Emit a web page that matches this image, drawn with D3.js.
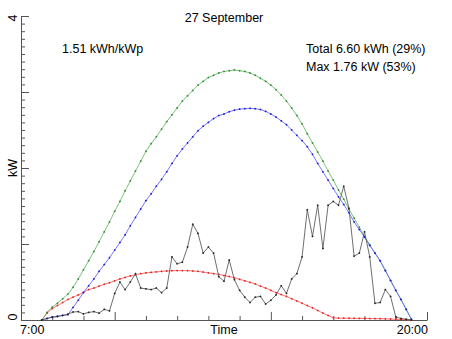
<!DOCTYPE html>
<html><head><meta charset="utf-8">
<script src="https://cdn.jsdelivr.net/npm/d3@7"></script>
<style>body{margin:0;background:#fff} svg{display:block} text{font-family:"Liberation Sans",Arial,sans-serif;fill:#000}</style>
</head><body><svg id="c" width="452" height="339"></svg>
<script>
// 10-minute samples
const times = ["7:40","7:50","8:00","8:10","8:20","8:30","8:40","8:50","9:00","9:10","9:20","9:30","9:40","9:50",
"10:00","10:10","10:20","10:30","10:40","10:50","11:00","11:10","11:20","11:30","11:40","11:50",
"12:00","12:10","12:20","12:30","12:40","12:50","13:00","13:10","13:20","13:30","13:40","13:50",
"14:00","14:10","14:20","14:30","14:40","14:50","15:00","15:10","15:20","15:30","15:40","15:50",
"16:00","16:10","16:20","16:30","16:40","16:50","17:00","17:10","17:20","17:30","17:40","17:50",
"18:00","18:10","18:20","18:30","18:40","18:50","19:00","19:10","19:20","19:30"];
const clearSky = [0,0.10,0.17,0.22,0.28,0.34,0.43,0.54,0.66,0.78,0.90,1.03,1.16,1.29,
1.43,1.56,1.70,1.83,1.96,2.09,2.22,2.32,2.41,2.51,2.61,2.70,
2.79,2.88,2.95,3.02,3.09,3.14,3.19,3.22,3.25,3.27,3.28,3.29,
3.28,3.27,3.25,3.22,3.18,3.14,3.09,3.03,2.96,2.88,2.79,2.69,
2.58,2.45,2.33,2.21,2.09,1.96,1.84,1.71,1.59,1.46,1.34,1.22,
1.10,0.99,0.88,0.78,0.65,0.52,0.39,0.27,0.14,0.01];
const expected = [0,0.02,0.04,0.05,0.06,0.07,0.165,0.26,0.36,0.45,0.54,0.64,0.73,0.82,
0.92,1.02,1.12,1.24,1.35,1.46,1.57,1.66,1.76,1.85,1.95,2.06,
2.16,2.25,2.33,2.41,2.49,2.55,2.60,2.65,2.69,2.71,2.74,2.76,
2.775,2.78,2.785,2.78,2.77,2.745,2.71,2.67,2.62,2.57,2.50,2.43,
2.36,2.28,2.18,2.06,1.95,1.84,1.73,1.62,1.52,1.41,1.29,1.19,
1.09,0.98,0.88,0.78,0.65,0.52,0.39,0.27,0.14,0.01];
const diffuse = [0,0.09,0.15,0.19,0.23,0.27,0.30,0.33,0.365,0.40,0.42,0.445,0.47,0.49,
0.515,0.54,0.56,0.58,0.595,0.61,0.62,0.627,0.633,0.64,0.645,0.649,
0.65,0.65,0.649,0.645,0.64,0.63,0.62,0.61,0.60,0.585,0.572,0.555,
0.535,0.515,0.495,0.475,0.445,0.42,0.39,0.36,0.335,0.31,0.28,0.25,
0.22,0.19,0.16,0.125,0.09,0.06,0.03,0.025,0.024,0.023,0.022,0.021,
0.02,0.019,0.018,0.017,0.015,0.013,0.01,0.007,0.004,0];
const measured = [0,0.02,0.035,0.045,0.06,0.075,0.105,0.11,0.08,0.10,0.11,0.09,0.14,0.12,
0.35,0.50,0.40,0.50,0.61,0.42,0.41,0.40,0.42,0.36,0.42,0.83,
0.74,0.76,0.96,1.26,1.14,0.88,0.96,0.88,0.57,0.51,0.79,0.53,
0.39,0.30,0.23,0.30,0.31,0.21,0.26,0.33,0.45,0.35,0.54,0.61,
0.83,1.45,1.10,1.51,0.94,1.51,1.56,1.51,1.76,1.47,0.84,0.88,
1.16,0.83,0.22,0.23,0.40,0.31,0.04,0.02,0.01,0];
const xDomain = [7, 20];
const yDomain = [0, 4];
const xMajorTicks = [10, 15, 20];
const yTickLabelValues = [0, 4];
const yTickLabels = ["0", "4"];
const xEndLabels = ["7:00", "20:00"];
const titleText = "27 September";
const yTitle = "kW", xTitle = "Time";
const infoLeft = "1.51 kWh/kWp";
const infoRight = ["Total 6.60 kWh (29%)", "Max 1.76 kW (53%)"];

const hours = times.map(s => { const [h, m] = s.split(":").map(Number); return h + m / 60; });
const svg = d3.select("#c");
const x = d3.scaleLinear().domain(xDomain).range([21, 427]);
const y = d3.scaleLinear().domain(yDomain).range([320, 16]);
const FS = 12.5;

// axes
const axCol = "#555";
const gx = svg.append("g").attr("transform", "translate(0,320)").style("color", axCol);
gx.call(d3.axisBottom(x).tickValues(x.ticks(13).filter(h => h > xDomain[0] && !xMajorTicks.includes(h))).tickSizeInner(-4).tickSizeOuter(0).tickFormat(""));
const gx2 = svg.append("g").attr("transform", "translate(0,320)").style("color", axCol);
gx2.call(d3.axisBottom(x).tickValues(xMajorTicks).tickSizeInner(-8).tickSizeOuter(0).tickFormat(""));
gx2.select(".domain").remove();

const gy = svg.append("g").attr("transform", "translate(21,0)").style("color", axCol);
gy.call(d3.axisLeft(y).tickValues(y.ticks(40).filter(v => Math.abs(v - Math.round(v)) > 1e-6)).tickSizeInner(-4).tickSizeOuter(0).tickFormat(""));
const gy2 = svg.append("g").attr("transform", "translate(21,0)").style("color", axCol);
gy2.call(d3.axisLeft(y).tickValues(y.ticks(4)).tickSizeInner(-8).tickSizeOuter(0).tickFormat(""));
gy2.select(".domain").remove();

// y tick labels (rotated)
yTickLabelValues.forEach((v, i) => {
  svg.append("text").attr("transform", `translate(17,${y(v) + (v === 0 ? -3 : 2)}) rotate(-90)`)
    .attr("text-anchor", "middle").attr("font-size", FS).text(yTickLabels[i]);
});
svg.append("text").attr("transform", `translate(17,${y(2)}) rotate(-90)`).attr("text-anchor", "middle").attr("font-size", FS).text(yTitle);
svg.append("text").attr("x", x.range()[0] - 1).attr("y", 334).attr("font-size", FS).text(xEndLabels[0]);
svg.append("text").attr("x", x.range()[1] + 1).attr("y", 334).attr("text-anchor", "end").attr("font-size", FS).text(xEndLabels[1]);
svg.append("text").attr("x", (x.range()[0] + x.range()[1]) / 2).attr("y", 334).attr("text-anchor", "middle").attr("font-size", FS).text(xTitle);
svg.append("text").attr("x", (x.range()[0] + x.range()[1]) / 2).attr("y", 22).attr("text-anchor", "middle").attr("font-size", FS).text(titleText);
svg.append("text").attr("x", 62).attr("y", 53).attr("font-size", FS).text(infoLeft);
infoRight.forEach((t, i) => svg.append("text").attr("x", 306).attr("y", 52.5 + i * 18).attr("font-size", FS).text(t));

// series
const series = [
  { v: diffuse, line: "#ff5a5a", mark: "#e02020" },
  { v: clearSky, line: "#62b862", mark: "#2a8a2a" },
  { v: expected, line: "#6060ff", mark: "#1515d8" },
  { v: measured, line: "#555", mark: "#222" }
];
const line = d3.line().x((d, i) => x(hours[i])).y(d => y(d));
series.forEach(s => {
  svg.append("path").datum(s.v).attr("d", line).attr("fill", "none").attr("stroke", s.line).attr("stroke-width", 0.85);
  svg.append("g").selectAll("path").data(s.v).join("path")
    .attr("transform", (d, i) => `translate(${x(hours[i])},${y(d)})`)
    .attr("d", "M-0.9,0H0.9M0,-0.9V0.9").attr("stroke", s.mark).attr("stroke-width", 0.9);
});
</script></body></html>
